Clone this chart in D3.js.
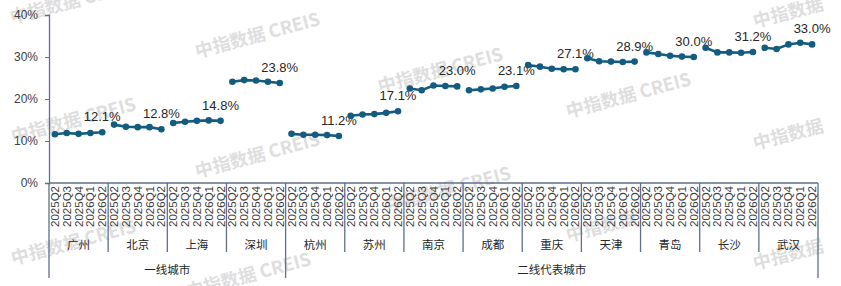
<!DOCTYPE html>
<html><head><meta charset="utf-8">
<script src="https://cdn.jsdelivr.net/npm/d3@7"></script>
<style>
html,body{margin:0;padding:0;background:#fff;}
svg{display:block;}
</style></head>
<body>
<svg id="chart" width="841" height="286"></svg>
<script>
const quarters = ["2025Q2","2025Q3","2025Q4","2026Q1","2026Q2"];
const cities = ["广州","北京","上海","深圳","杭州","苏州","南京","成都","重庆","天津","青岛","长沙","武汉"];
const groups = [{name:"一线城市", count:4},{name:"二线代表城市", count:9}];
const values = [
  [11.6,11.9,11.7,11.9,12.1],
  [13.9,13.4,13.3,13.3,12.8],
  [14.3,14.6,14.8,14.9,14.8],
  [24.1,24.5,24.4,24.1,23.8],
  [11.7,11.5,11.5,11.4,11.2],
  [16.0,16.3,16.4,16.7,17.1],
  [22.5,22.1,23.2,23.1,23.0],
  [22.1,22.3,22.5,22.9,23.1],
  [28.1,27.7,27.2,27.1,27.1],
  [29.7,29.0,28.9,28.8,28.9],
  [31.1,30.7,30.3,30.1,30.0],
  [32.2,31.1,31.1,31.0,31.2],
  [32.2,31.9,33.0,33.4,33.0]
];
const yTicks = [0,10,20,30,40];
const watermarks = [
  [12,24,"中指数据 CREIS"],[197,58,"中指数据 CREIS"],[13,143,"中指数据 CREIS"],
  [197,178,"中指数据 CREIS"],[380,93,"中指数据 CREIS"],[388,212,"中指数据 CREIS"],
  [568,118,"中指数据 CREIS"],[755,28,"中指数据"],[755,150,"中指数据"],
  [13,265,"中指数据 CREIS"],[188,298,"中指数据 CREIS"],[568,242,"中指数据"],[755,270,"中指数据"]
];

(function(){
const svg = d3.select("#chart");
const mLeft = 49, mRight = 818, mTop = 15, mBottom = 183;
const axisColor = "#5f6f8c";
const lineColor = "#135c80";

// watermarks
svg.append("g").selectAll("text").data(watermarks).join("text")
  .attr("transform", d => `translate(${d[0]},${d[1]}) rotate(-15)`)
  .attr("font-family", "'Noto Sans CJK SC', sans-serif")
  .attr("font-weight", "bold")
  .attr("font-size", 18)
  .attr("fill", "#dedede")
  .text(d => d[2]);

const cats = [];
cities.forEach(c => quarters.forEach(q => cats.push(c + "|" + q)));
const x = d3.scaleBand().domain(cats).range([mLeft, mRight]).padding(0);
const y = d3.scaleLinear().domain([0, 40]).range([mBottom, mTop]);
const bw = x.bandwidth();

// y axis
const yAxis = svg.append("g").attr("transform", `translate(${mLeft},0)`)
  .call(d3.axisLeft(y).tickValues(yTicks).tickFormat(d => d + "%").tickSize(4).tickPadding(7));
yAxis.select(".domain").attr("stroke", axisColor).attr("stroke-width", 1.3);
yAxis.selectAll(".tick line").attr("stroke", axisColor);
yAxis.selectAll(".tick text").attr("font-family", "'Liberation Sans', Arial, sans-serif")
  .attr("font-size", 12).attr("fill", "#404040");

// x axis line
svg.append("line").attr("x1", mLeft).attr("x2", mRight).attr("y1", mBottom).attr("y2", mBottom)
  .attr("stroke", axisColor).attr("stroke-width", 1.3);

// quarter labels
svg.append("g").selectAll("text").data(cats).join("text")
  .attr("transform", d => `translate(${x(d) + bw/2 + 4},${mBottom + 3}) rotate(-90)`)
  .attr("text-anchor", "end")
  .attr("font-family", "'Liberation Sans', Arial, sans-serif")
  .attr("font-size", 11.5)
  .attr("fill", "#404040")
  .text(d => d.split("|")[1]);

// city separators and labels
const cityStart = i => x(cities[i] + "|" + quarters[0]);
const cityEnd = i => x(cities[i] + "|" + quarters[quarters.length-1]) + bw;
const groupBounds = [];
let acc = 0;
groups.forEach(g => { groupBounds.push([acc, acc + g.count - 1]); acc += g.count; });
const groupEdgeIdx = new Set([0]);
groupBounds.forEach(b => groupEdgeIdx.add(b[1] + 1));

for (let i = 0; i <= cities.length; i++) {
  const xx = i < cities.length ? cityStart(i) : cityEnd(cities.length - 1);
  svg.append("line").attr("x1", xx).attr("x2", xx).attr("y1", mBottom)
    .attr("y2", groupEdgeIdx.has(i) ? 278 : 252)
    .attr("stroke", axisColor).attr("stroke-width", 1.3);
}
svg.append("g").selectAll("text").data(cities).join("text")
  .attr("x", (d, i) => (cityStart(i) + cityEnd(i)) / 2)
  .attr("y", 249)
  .attr("text-anchor", "middle")
  .attr("font-family", "'Noto Sans CJK SC', sans-serif")
  .attr("font-size", 11.5)
  .attr("fill", "#262626")
  .text(d => d);
svg.append("g").selectAll("text").data(groups).join("text")
  .attr("x", (d, i) => (cityStart(groupBounds[i][0]) + cityEnd(groupBounds[i][1])) / 2)
  .attr("y", 274)
  .attr("text-anchor", "middle")
  .attr("font-family", "'Noto Sans CJK SC', sans-serif")
  .attr("font-size", 11.5)
  .attr("fill", "#262626")
  .text(d => d.name);

// lines and markers
const line = d3.line().x(d => x(d.k) + bw/2).y(d => y(d.v));
cities.forEach((c, i) => {
  const pts = quarters.map((q, j) => ({k: c + "|" + q, v: values[i][j]}));
  const g = svg.append("g");
  g.append("path").datum(pts).attr("d", line).attr("fill", "none")
    .attr("stroke", lineColor).attr("stroke-width", 2.6);
  g.selectAll("circle").data(pts).join("circle")
    .attr("cx", d => x(d.k) + bw/2).attr("cy", d => y(d.v)).attr("r", 3.3)
    .attr("fill", lineColor);
  const last = pts[pts.length - 1];
  g.append("text").attr("x", x(last.k) + bw/2).attr("y", y(last.v) - 11)
    .attr("text-anchor", "middle")
    .attr("font-family", "'Liberation Sans', Arial, sans-serif")
    .attr("font-size", 13).attr("fill", "#262626")
    .text(last.v.toFixed(1) + "%");
});
})();
</script>
</body></html>
